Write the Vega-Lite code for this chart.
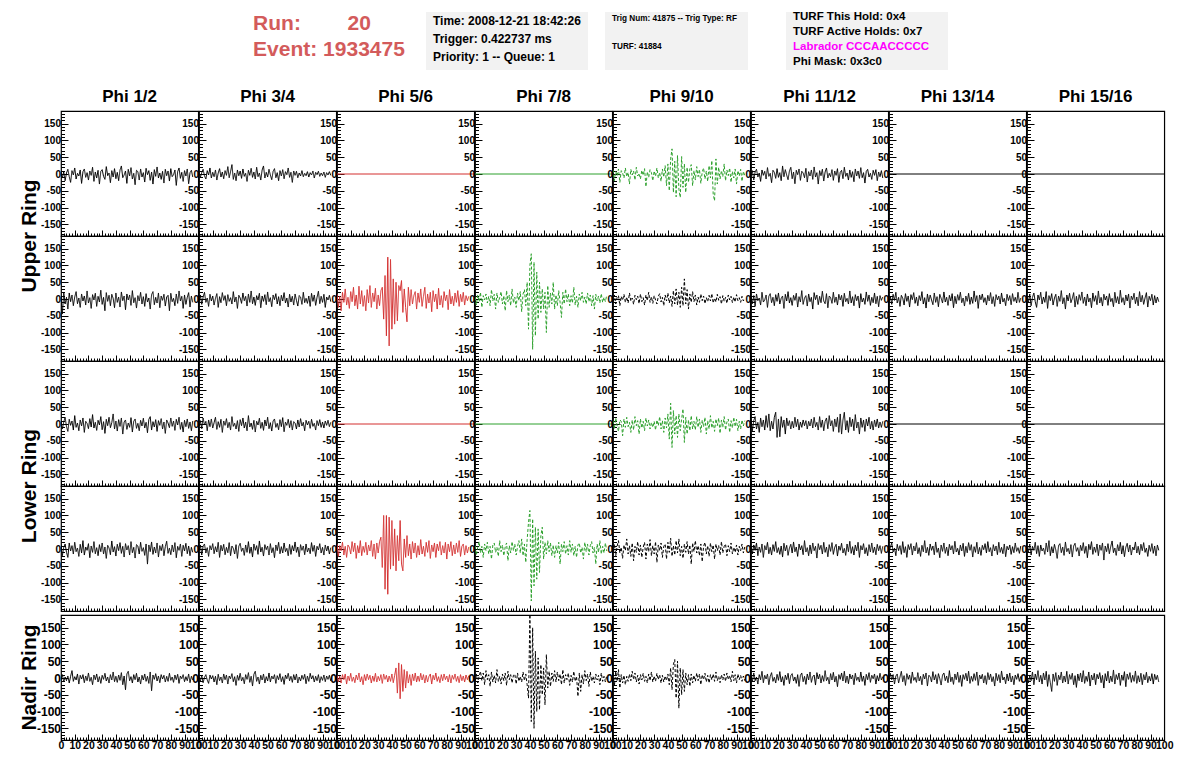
{
"$schema": "https://vega.github.io/schema/vega-lite/v6.json",
"padding": {"left": 18, "top": 10, "right": 0, "bottom": 0},
"config": {"view": {"stroke": "#000000", "strokeWidth": 1.2}, "font": "Liberation Sans", "axis": {"labelFont": "Liberation Sans"}, "header": {"labelFont": "Liberation Sans"}, "text": {"font": "Liberation Sans"}},
"datasets": {"wave": [
{"ring":"U1","phi":"Phi 1/2","trig":"none","pol":"V","ns":[0,1,2,3,4,5,6,7,8,9,10,11,12,13,14,15,16,17,18,19,20,21,22,23,24,25,26,27,28,29,30,31,32,33,34,35,36,37,38,39,40,41,42,43,44,45,46,47,48,49,50,51,52,53,54,55,56,57,58,59,60,61,62,63,64,65,66,67,68,69,70,71,72,73,74,75,76,77,78,79,80,81,82,83,84,85,86,87,88,89,90,91,92,93,94,95,96],"adc":[5,-12,8,-20,3,14,-8,-25,10,-3,18,-15,2,-6,12,-28,7,15,-10,4,-18,9,-4,20,-22,6,-12,11,-30,8,13,-7,-16,22,-5,3,-26,10,-9,16,-14,5,-20,12,24,-11,-3,9,-28,14,-6,19,-15,2,-32,11,7,-18,15,-9,4,-24,17,-2,10,-19,6,-30,13,-7,21,-12,3,-16,8,-27,14,-5,9,-21,16,-8,-2,12,-34,7,18,-13,5,-22,10,-6,15,-29,4,11,-9]},
{"ring":"U1","phi":"Phi 3/4","trig":"none","pol":"V","ns":[0,1,2,3,4,5,6,7,8,9,10,11,12,13,14,15,16,17,18,19,20,21,22,23,24,25,26,27,28,29,30,31,32,33,34,35,36,37,38,39,40,41,42,43,44,45,46,47,48,49,50,51,52,53,54,55,56,57,58,59,60,61,62,63,64,65,66,67,68,69,70,71,72,73,74,75,76,77,78,79,80,81,82,83,84,85,86,87,88,89,90,91,92,93,94,95,96],"adc":[8,-10,4,14,-6,-15,10,-3,18,-12,5,-8,12,-18,3,16,-9,6,-14,10,-4,22,-11,7,28,-16,3,-20,12,-5,9,-13,15,-7,2,-22,11,-4,17,-10,6,-15,20,-8,3,-18,12,24,-12,5,-9,14,-3,-17,8,16,-11,4,-20,10,-6,13,-14,7,-2,18,-10,5,-25,9,-4,8,-11,3,-6,10,-8,2,-5,7,-9,4,-3,9,-12,5,-2,8,-7,3,-5,6,-10,4,-3,7,-4]},
{"ring":"U1","phi":"Phi 5/6","trig":"L1","pol":"V","ns":[0,100],"adc":[0,0]},
{"ring":"U1","phi":"Phi 7/8","trig":"L2","pol":"V","ns":[0,100],"adc":[0,0]},
{"ring":"U1","phi":"Phi 9/10","trig":"L2","pol":"H","ns":[0,1,2,3,4,5,6,7,8,9,10,11,12,13,14,15,16,17,18,19,20,21,22,23,24,25,26,27,28,29,30,31,32,33,34,35,36,37,38,39,40,41,42,43,44,45,46,47,48,49,50,51,52,53,54,55,56,57,58,59,60,61,62,63,64,65,66,67,68,69,70,71,72,73,74,75,76,77,78,79,80,81,82,83,84,85,86,87,88,89,90,91,92,93,94,95,96],"adc":[12,-20,8,-5,15,-25,10,3,-12,18,-8,5,-30,14,-3,9,-18,20,-6,2,-15,11,-4,16,-38,7,-10,13,4,-20,9,-7,18,-12,5,-22,15,-9,25,-35,30,-50,45,75,-55,38,-68,55,-45,-70,52,-40,30,-55,20,-25,15,28,-35,10,-18,22,-8,14,-28,6,18,-15,9,-22,25,-12,40,-60,-80,45,-30,20,-15,10,-8,30,-20,12,-5,18,-25,8,-12,15,-30,10,-6,14,-22,8,-5]},
{"ring":"U1","phi":"Phi 11/12","trig":"none","pol":"V","ns":[0,1,2,3,4,5,6,7,8,9,10,11,12,13,14,15,16,17,18,19,20,21,22,23,24,25,26,27,28,29,30,31,32,33,34,35,36,37,38,39,40,41,42,43,44,45,46,47,48,49,50,51,52,53,54,55,56,57,58,59,60,61,62,63,64,65,66,67,68,69,70,71,72,73,74,75,76,77,78,79,80,81,82,83,84,85,86,87,88,89,90,91,92,93,94,95,96],"adc":[-5,10,-18,6,14,-9,3,-22,12,-4,8,-15,19,-7,2,-26,11,5,-13,16,-10,4,-20,24,-8,13,-3,-17,9,20,-14,6,-29,11,-2,15,-19,8,3,-11,17,-24,7,-6,12,-16,21,-9,4,-30,10,-5,14,-21,6,18,-12,2,-8,13,-19,9,-4,16,-25,5,11,-14,20,-7,3,-18,12,-10,7,-23,15,-6,9,-13,19,-11,4,-27,8,14,-9,2,-16,11,-4,13,-20,6,-8,10,-12]},
{"ring":"U1","phi":"Phi 13/14","trig":"none","pol":"V","ns":[0,100],"adc":[0,0]},
{"ring":"U1","phi":"Phi 15/16","trig":"none","pol":"V","ns":[0,100],"adc":[0,0]},
{"ring":"U2","phi":"Phi 1/2","trig":"none","pol":"V","ns":[0,1,2,3,4,5,6,7,8,9,10,11,12,13,14,15,16,17,18,19,20,21,22,23,24,25,26,27,28,29,30,31,32,33,34,35,36,37,38,39,40,41,42,43,44,45,46,47,48,49,50,51,52,53,54,55,56,57,58,59,60,61,62,63,64,65,66,67,68,69,70,71,72,73,74,75,76,77,78,79,80,81,82,83,84,85,86,87,88,89,90,91,92,93,94,95,96],"adc":[10,-45,20,-15,5,-30,18,-8,12,-20,6,22,-14,3,-25,15,-6,9,-18,24,-12,4,-28,13,-3,17,-22,8,-9,26,-16,5,-35,19,-7,11,-20,14,2,-26,18,-10,6,-24,21,-5,9,-32,15,-3,12,-19,25,-11,4,-27,10,-6,20,-15,7,-22,16,-9,3,-30,13,22,-17,5,-12,18,-26,9,-4,14,-21,6,11,-35,17,-8,2,-20,15,-13,24,-6,8,-28,12,-16,5,19,-24,9,-10]},
{"ring":"U2","phi":"Phi 3/4","trig":"none","pol":"V","ns":[0,1,2,3,4,5,6,7,8,9,10,11,12,13,14,15,16,17,18,19,20,21,22,23,24,25,26,27,28,29,30,31,32,33,34,35,36,37,38,39,40,41,42,43,44,45,46,47,48,49,50,51,52,53,54,55,56,57,58,59,60,61,62,63,64,65,66,67,68,69,70,71,72,73,74,75,76,77,78,79,80,81,82,83,84,85,86,87,88,89,90,91,92,93,94,95,96],"adc":[-8,12,-16,5,20,-10,3,-22,14,-6,9,-18,2,16,-25,7,-11,19,-4,10,-20,13,-7,4,-15,22,-9,6,-28,11,3,-13,18,-5,8,-21,15,-10,24,-14,6,-19,10,-3,17,-26,9,-7,13,-17,21,-8,4,-23,12,-2,16,-15,7,-20,11,-6,19,-12,3,-24,14,-9,8,-18,15,-4,-21,10,6,-16,20,-11,2,-13,9,-22,17,-7,12,-19,5,23,-14,8,-10,14,-25,6,-3,11,-8]},
{"ring":"U2","phi":"Phi 5/6","trig":"L1","pol":"V","ns":[0,1,2,3,4,5,6,7,8,9,10,11,12,13,14,15,16,17,18,19,20,21,22,23,24,25,26,27,28,29,30,31,32,33,34,35,36,37,38,39,40,41,42,43,44,45,46,47,48,49,50,51,52,53,54,55,56,57,58,59,60,61,62,63,64,65,66,67,68,69,70,71,72,73,74,75,76,77,78,79,80,81,82,83,84,85,86,87,88,89,90,91,92,93,94,95,96],"adc":[15,-25,8,-35,20,-10,30,-18,5,-28,22,-8,35,-20,12,-30,38,-15,25,-22,10,-35,28,-12,40,-25,18,-8,32,-30,12,-20,25,35,-60,70,-110,125,-140,118,-90,60,-75,50,-65,40,25,55,-40,30,-25,-68,35,-20,28,-15,10,22,-30,18,-10,30,-22,8,35,-28,15,-12,20,-38,25,-8,15,-30,32,-18,10,-25,22,-5,12,-32,28,-15,8,-20,18,-10,25,-22,14,-8,20,-18,10,-5,8]},
{"ring":"U2","phi":"Phi 7/8","trig":"L2","pol":"H","ns":[0,1,2,3,4,5,6,7,8,9,10,11,12,13,14,15,16,17,18,19,20,21,22,23,24,25,26,27,28,29,30,31,32,33,34,35,36,37,38,39,40,41,42,43,44,45,46,47,48,49,50,51,52,53,54,55,56,57,58,59,60,61,62,63,64,65,66,67,68,69,70,71,72,73,74,75,76,77,78,79,80,81,82,83,84,85,86,87,88,89,90,91,92,93,94,95,96],"adc":[5,-18,12,-8,20,-25,10,-3,15,-12,8,-20,28,-6,14,-30,18,-10,5,22,-15,10,-35,25,-8,12,-20,30,-12,6,-25,18,-5,22,-38,15,28,-20,50,-90,100,135,-150,110,-110,80,-60,50,-40,30,-30,20,-100,40,-25,18,-15,50,-30,12,-20,25,-10,-55,20,-15,30,-8,15,-20,10,-12,35,-18,8,-25,15,-5,20,-10,6,-15,18,-8,12,-20,10,-30,14,-6,9,-12,16,-10,5,-8,12]},
{"ring":"U2","phi":"Phi 9/10","trig":"none","pol":"H","ns":[0,1,2,3,4,5,6,7,8,9,10,11,12,13,14,15,16,17,18,19,20,21,22,23,24,25,26,27,28,29,30,31,32,33,34,35,36,37,38,39,40,41,42,43,44,45,46,47,48,49,50,51,52,53,54,55,56,57,58,59,60,61,62,63,64,65,66,67,68,69,70,71,72,73,74,75,76,77,78,79,80,81,82,83,84,85,86,87,88,89,90,91,92,93,94,95,96],"adc":[-8,12,-15,5,10,-20,8,-4,14,-10,6,-12,18,-6,3,-16,11,-2,9,-14,15,-8,4,-18,12,-5,20,-10,7,-13,10,-3,-15,8,16,-9,5,-20,12,-6,18,-12,9,-22,25,-15,30,-18,20,-25,35,-20,60,-15,28,-30,15,-10,22,-8,12,-18,6,-10,15,-5,9,-14,4,-8,11,-6,16,-12,3,-9,14,-4,7,-15,10,-7,5,-13,12,-3,8,-11,6,-9,13,-5,4,-10,8,-6,3]},
{"ring":"U2","phi":"Phi 11/12","trig":"none","pol":"V","ns":[0,1,2,3,4,5,6,7,8,9,10,11,12,13,14,15,16,17,18,19,20,21,22,23,24,25,26,27,28,29,30,31,32,33,34,35,36,37,38,39,40,41,42,43,44,45,46,47,48,49,50,51,52,53,54,55,56,57,58,59,60,61,62,63,64,65,66,67,68,69,70,71,72,73,74,75,76,77,78,79,80,81,82,83,84,85,86,87,88,89,90,91,92,93,94,95,96],"adc":[6,-14,10,-22,15,-5,3,-18,20,-9,-3,12,-25,8,16,-11,5,-20,13,-7,18,-15,2,9,-28,14,-6,22,-12,4,-19,11,-4,17,-24,7,-9,25,-16,3,10,-21,15,-8,5,-30,19,-2,12,-17,8,-11,23,-6,-14,16,-26,9,4,-13,20,-10,6,-18,14,-3,11,-22,17,-8,2,-15,24,-12,7,-20,13,-5,9,-27,16,-9,3,-16,21,-7,12,-19,5,-11,18,-14,8,-23,10,-4,6]},
{"ring":"U2","phi":"Phi 13/14","trig":"none","pol":"V","ns":[0,1,2,3,4,5,6,7,8,9,10,11,12,13,14,15,16,17,18,19,20,21,22,23,24,25,26,27,28,29,30,31,32,33,34,35,36,37,38,39,40,41,42,43,44,45,46,47,48,49,50,51,52,53,54,55,56,57,58,59,60,61,62,63,64,65,66,67,68,69,70,71,72,73,74,75,76,77,78,79,80,81,82,83,84,85,86,87,88,89,90,91,92,93,94,95,96],"adc":[-10,8,-16,14,-4,20,-12,5,-22,11,3,-18,16,-7,9,-24,13,-2,19,-13,6,-20,10,-5,22,-15,4,-27,15,-8,12,-3,-17,18,-10,7,-23,14,2,-12,21,-9,5,-19,11,-6,16,-26,8,-14,13,-4,20,-11,3,-21,9,-7,17,-16,6,-13,24,-8,10,-28,12,-2,15,-10,4,-18,11,-6,19,-14,7,-22,13,-3,9,-15,18,-9,2,-20,14,-5,10,-17,16,-7,5,-12,20,-10,3]},
{"ring":"U2","phi":"Phi 15/16","trig":"none","pol":"V","ns":[0,1,2,3,4,5,6,7,8,9,10,11,12,13,14,15,16,17,18,19,20,21,22,23,24,25,26,27,28,29,30,31,32,33,34,35,36,37,38,39,40,41,42,43,44,45,46,47,48,49,50,51,52,53,54,55,56,57,58,59,60,61,62,63,64,65,66,67,68,69,70,71,72,73,74,75,76,77,78,79,80,81,82,83,84,85,86,87,88,89,90,91,92,93,94,95,96],"adc":[8,-12,15,-20,5,18,-8,-25,12,-3,20,-15,6,-10,22,-28,10,-5,16,-18,3,14,-22,9,-7,25,-14,4,-30,12,-6,17,-11,2,19,-24,8,-16,13,-4,21,-13,6,-20,15,-9,3,-26,18,-7,10,-17,24,-12,5,-21,14,-3,9,-19,16,-8,2,-23,20,-11,7,-15,26,-10,4,-18,12,-6,15,-27,9,-2,17,-14,6,-20,22,-9,11,-16,3,19,-24,8,-5,14,-18,10,-12,6,-8]},
{"ring":"L1","phi":"Phi 1/2","trig":"none","pol":"V","ns":[0,1,2,3,4,5,6,7,8,9,10,11,12,13,14,15,16,17,18,19,20,21,22,23,24,25,26,27,28,29,30,31,32,33,34,35,36,37,38,39,40,41,42,43,44,45,46,47,48,49,50,51,52,53,54,55,56,57,58,59,60,61,62,63,64,65,66,67,68,69,70,71,72,73,74,75,76,77,78,79,80,81,82,83,84,85,86,87,88,89,90,91,92,93,94,95,96],"adc":[10,-15,6,20,-8,-22,14,-4,9,-18,25,-10,3,-20,12,-6,18,-25,8,2,-14,16,-9,28,-12,5,-19,11,-3,22,-17,7,-28,14,-5,20,-11,4,30,-15,9,-21,13,-7,18,-30,6,12,-16,3,-10,19,-24,8,15,-13,2,-20,11,-6,17,-12,5,-26,14,22,-18,7,-9,13,-22,10,-4,16,-15,6,-28,12,3,-11,18,-7,9,-19,14,-3,20,-16,5,-24,11,-8,15,-13,6,-20,9]},
{"ring":"L1","phi":"Phi 3/4","trig":"none","pol":"V","ns":[0,1,2,3,4,5,6,7,8,9,10,11,12,13,14,15,16,17,18,19,20,21,22,23,24,25,26,27,28,29,30,31,32,33,34,35,36,37,38,39,40,41,42,43,44,45,46,47,48,49,50,51,52,53,54,55,56,57,58,59,60,61,62,63,64,65,66,67,68,69,70,71,72,73,74,75,76,77,78,79,80,81,82,83,84,85,86,87,88,89,90,91,92,93,94,95,96],"adc":[-6,10,-14,18,-3,8,-20,12,-8,15,-12,4,20,-16,7,-10,14,-25,9,-4,16,-11,5,-18,22,-7,2,-15,10,-22,13,-5,18,-12,6,-20,25,-9,3,-16,11,-24,8,-3,17,-13,5,-19,12,-6,20,-14,4,-21,9,15,-10,2,-17,13,-8,19,-23,6,-4,14,-11,10,-18,7,3,-15,12,-9,16,-6,5,-20,11,-3,8,-13,14,-7,2,-18,10,-5,13,-10,6,-12,9,-4,11,-8,5]},
{"ring":"L1","phi":"Phi 5/6","trig":"L1","pol":"V","ns":[0,100],"adc":[0,0]},
{"ring":"L1","phi":"Phi 7/8","trig":"L2","pol":"V","ns":[0,100],"adc":[0,0]},
{"ring":"L1","phi":"Phi 9/10","trig":"L2","pol":"H","ns":[0,1,2,3,4,5,6,7,8,9,10,11,12,13,14,15,16,17,18,19,20,21,22,23,24,25,26,27,28,29,30,31,32,33,34,35,36,37,38,39,40,41,42,43,44,45,46,47,48,49,50,51,52,53,54,55,56,57,58,59,60,61,62,63,64,65,66,67,68,69,70,71,72,73,74,75,76,77,78,79,80,81,82,83,84,85,86,87,88,89,90,91,92,93,94,95,96],"adc":[10,-15,18,-5,-22,12,8,-35,15,-10,20,-8,5,-25,12,-18,22,-5,10,-30,15,-12,8,-20,18,-6,12,-15,5,-10,8,-18,12,-5,22,-15,10,-25,18,-12,30,-45,62,-70,40,-30,25,-40,30,-20,15,45,-55,20,-30,12,-20,25,-15,8,-18,22,-10,15,-25,12,-8,20,-30,10,-15,25,-12,8,-22,15,-5,18,-28,12,-10,22,-18,6,15,-25,10,-12,20,-8,14,-20,8,-15,12,-6,10]},
{"ring":"L1","phi":"Phi 11/12","trig":"none","pol":"V","ns":[0,1,2,3,4,5,6,7,8,9,10,11,12,13,14,15,16,17,18,19,20,21,22,23,24,25,26,27,28,29,30,31,32,33,34,35,36,37,38,39,40,41,42,43,44,45,46,47,48,49,50,51,52,53,54,55,56,57,58,59,60,61,62,63,64,65,66,67,68,69,70,71,72,73,74,75,76,77,78,79,80,81,82,83,84,85,86,87,88,89,90,91,92,93,94,95,96],"adc":[15,-20,10,22,-15,5,-25,18,-8,12,-18,25,-10,30,-20,8,-15,20,35,-40,15,-38,22,-10,12,-30,18,-5,10,-15,8,-12,20,-8,14,-18,6,-10,12,-5,10,-15,8,-6,15,-12,20,-8,5,-18,22,-10,12,-20,8,18,-14,25,-6,10,-22,15,-8,20,-25,30,-30,12,35,-18,10,-25,20,-8,15,-20,28,-12,6,-30,18,-10,12,-22,15,-6,20,-15,8,-18,12,-8,15,-12,6,-10,8]},
{"ring":"L1","phi":"Phi 13/14","trig":"none","pol":"V","ns":[0,100],"adc":[0,0]},
{"ring":"L1","phi":"Phi 15/16","trig":"none","pol":"V","ns":[0,100],"adc":[0,0]},
{"ring":"L2","phi":"Phi 1/2","trig":"none","pol":"V","ns":[0,1,2,3,4,5,6,7,8,9,10,11,12,13,14,15,16,17,18,19,20,21,22,23,24,25,26,27,28,29,30,31,32,33,34,35,36,37,38,39,40,41,42,43,44,45,46,47,48,49,50,51,52,53,54,55,56,57,58,59,60,61,62,63,64,65,66,67,68,69,70,71,72,73,74,75,76,77,78,79,80,81,82,83,84,85,86,87,88,89,90,91,92,93,94,95,96],"adc":[12,-20,5,15,-10,-25,18,-6,10,-15,20,-8,3,-22,14,-12,25,-18,6,-4,16,-26,9,-10,22,-14,4,-20,13,-8,18,-15,6,-28,11,3,-17,24,-9,7,-21,14,-5,19,-13,8,-24,16,-3,10,-18,22,-11,5,-27,13,9,-15,20,-7,4,-19,15,-45,12,-8,21,-16,6,-12,18,-24,10,-5,14,-20,7,23,-13,3,-17,12,-9,19,-26,8,-4,15,-22,11,-6,17,-14,9,-20,5,-10]},
{"ring":"L2","phi":"Phi 3/4","trig":"none","pol":"V","ns":[0,1,2,3,4,5,6,7,8,9,10,11,12,13,14,15,16,17,18,19,20,21,22,23,24,25,26,27,28,29,30,31,32,33,34,35,36,37,38,39,40,41,42,43,44,45,46,47,48,49,50,51,52,53,54,55,56,57,58,59,60,61,62,63,64,65,66,67,68,69,70,71,72,73,74,75,76,77,78,79,80,81,82,83,84,85,86,87,88,89,90,91,92,93,94,95,96],"adc":[-5,12,-18,8,15,-12,4,-22,10,-3,16,-14,7,-9,20,-25,11,-6,14,-17,5,-11,19,-20,9,2,-15,13,-28,8,17,-7,3,-19,12,-10,22,-13,6,-24,15,-4,10,-16,24,-9,5,-21,13,-2,9,-18,16,-11,4,-26,12,-5,20,-14,7,-12,18,-8,2,-20,14,-16,10,-6,21,-10,6,-23,13,-4,9,-17,15,-9,3,-14,19,-7,11,-22,8,-3,16,-12,5,-18,12,-6,9,-15,4]},
{"ring":"L2","phi":"Phi 5/6","trig":"L1","pol":"V","ns":[0,1,2,3,4,5,6,7,8,9,10,11,12,13,14,15,16,17,18,19,20,21,22,23,24,25,26,27,28,29,30,31,32,33,34,35,36,37,38,39,40,41,42,43,44,45,46,47,48,49,50,51,52,53,54,55,56,57,58,59,60,61,62,63,64,65,66,67,68,69,70,71,72,73,74,75,76,77,78,79,80,81,82,83,84,85,86,87,88,89,90,91,92,93,94,95,96],"adc":[15,-22,10,-5,20,-18,8,-25,12,5,-15,22,-8,18,-28,10,-12,25,-20,8,-10,20,-18,12,-6,25,-22,15,-30,18,-12,22,35,-55,100,-120,100,-135,95,-60,85,-50,60,-65,40,-35,85,-45,-65,30,-25,40,-20,15,-30,22,-12,18,-25,10,-18,28,-15,8,-22,20,-10,25,-28,12,-8,18,-25,15,-5,22,-18,10,-12,20,-30,15,-8,22,-20,12,-15,18,-10,25,-22,8,15,-18,10,-12,6]},
{"ring":"L2","phi":"Phi 7/8","trig":"L2","pol":"H","ns":[0,1,2,3,4,5,6,7,8,9,10,11,12,13,14,15,16,17,18,19,20,21,22,23,24,25,26,27,28,29,30,31,32,33,34,35,36,37,38,39,40,41,42,43,44,45,46,47,48,49,50,51,52,53,54,55,56,57,58,59,60,61,62,63,64,65,66,67,68,69,70,71,72,73,74,75,76,77,78,79,80,81,82,83,84,85,86,87,88,89,90,91,92,93,94,95,96],"adc":[10,-18,5,22,-12,8,-25,15,-5,20,-15,8,-30,12,18,-10,5,-22,25,-8,12,-20,6,18,-35,10,-12,22,-5,15,-18,8,25,-12,30,-20,15,-40,28,80,115,-155,90,-110,65,-90,60,-70,40,65,-30,20,-15,25,-8,18,-20,12,-25,10,-12,20,-45,15,-8,22,-15,10,-18,25,-10,15,-20,8,-25,12,18,-12,5,-30,20,-8,15,-18,10,22,-12,5,-45,15,-10,25,-15,8,-12,18,-6]},
{"ring":"L2","phi":"Phi 9/10","trig":"none","pol":"H","ns":[0,1,2,3,4,5,6,7,8,9,10,11,12,13,14,15,16,17,18,19,20,21,22,23,24,25,26,27,28,29,30,31,32,33,34,35,36,37,38,39,40,41,42,43,44,45,46,47,48,49,50,51,52,53,54,55,56,57,58,59,60,61,62,63,64,65,66,67,68,69,70,71,72,73,74,75,76,77,78,79,80,81,82,83,84,85,86,87,88,89,90,91,92,93,94,95,96],"adc":[-10,15,-20,8,25,-12,5,-28,12,-5,30,-15,10,-22,18,-35,8,-10,22,-18,12,-25,5,20,-30,15,-8,28,-20,10,-15,22,-40,12,-5,18,-25,8,15,-30,20,-10,32,-22,10,-18,25,-12,30,-20,8,-28,15,-10,22,-15,12,-45,18,-8,25,-12,10,-20,15,-38,8,20,-15,10,-22,18,-8,12,-30,15,-5,10,-18,22,-12,8,15,-20,10,-8,18,-15,5,-10,12,-18,8,-5,15,-12,6]},
{"ring":"L2","phi":"Phi 11/12","trig":"none","pol":"V","ns":[0,1,2,3,4,5,6,7,8,9,10,11,12,13,14,15,16,17,18,19,20,21,22,23,24,25,26,27,28,29,30,31,32,33,34,35,36,37,38,39,40,41,42,43,44,45,46,47,48,49,50,51,52,53,54,55,56,57,58,59,60,61,62,63,64,65,66,67,68,69,70,71,72,73,74,75,76,77,78,79,80,81,82,83,84,85,86,87,88,89,90,91,92,93,94,95,96],"adc":[8,-15,12,-4,18,-20,6,-10,15,-25,10,-3,20,-14,5,-18,13,-7,22,-11,4,-16,9,-24,17,-6,11,-19,3,14,-12,21,-8,6,-22,15,-3,10,-17,25,-9,4,-20,12,-14,18,-5,8,-27,16,-2,11,-15,20,-10,6,-23,13,-7,19,-16,5,14,-21,9,-4,17,-12,2,-19,15,-8,23,-13,7,-18,12,-6,20,-25,10,-3,16,-14,4,-20,13,-9,18,-11,6,-17,14,-5,10,-13,8]},
{"ring":"L2","phi":"Phi 13/14","trig":"none","pol":"V","ns":[0,1,2,3,4,5,6,7,8,9,10,11,12,13,14,15,16,17,18,19,20,21,22,23,24,25,26,27,28,29,30,31,32,33,34,35,36,37,38,39,40,41,42,43,44,45,46,47,48,49,50,51,52,53,54,55,56,57,58,59,60,61,62,63,64,65,66,67,68,69,70,71,72,73,74,75,76,77,78,79,80,81,82,83,84,85,86,87,88,89,90,91,92,93,94,95,96],"adc":[-12,6,18,-9,3,-20,14,-5,10,-16,22,-11,7,-25,13,-2,16,-18,9,-6,19,-14,4,-22,11,-8,25,-12,5,-19,15,-4,9,-17,21,-10,3,-26,12,-7,18,-13,6,-20,14,-3,10,-15,23,-9,2,-18,12,-6,17,-22,8,-11,19,-4,13,-24,7,-10,20,-15,5,-19,11,-2,16,-12,22,-8,4,-21,13,-6,9,-17,20,-10,5,-14,15,-23,8,-3,12,-16,7,-11,18,-7,4,-13,9]},
{"ring":"L2","phi":"Phi 15/16","trig":"none","pol":"V","ns":[0,1,2,3,4,5,6,7,8,9,10,11,12,13,14,15,16,17,18,19,20,21,22,23,24,25,26,27,28,29,30,31,32,33,34,35,36,37,38,39,40,41,42,43,44,45,46,47,48,49,50,51,52,53,54,55,56,57,58,59,60,61,62,63,64,65,66,67,68,69,70,71,72,73,74,75,76,77,78,79,80,81,82,83,84,85,86,87,88,89,90,91,92,93,94,95,96],"adc":[5,-10,15,-18,8,-4,20,-14,10,-22,12,-6,3,-16,18,-9,25,-20,7,-12,14,-3,-28,10,16,-11,6,-19,21,-8,2,-15,13,-24,9,17,-7,4,-21,11,-5,19,-13,8,-26,14,-2,22,-16,6,-10,15,-20,12,-4,18,-33,9,-8,16,-14,7,24,-11,3,-19,13,-6,20,-15,10,-23,5,17,-9,12,-18,6,-3,21,-12,8,-17,14,-5,19,-10,3,-22,11,-7,16,-13,9,-20,12,-4]},
{"ring":"N","phi":"Phi 1/2","trig":"none","pol":"V","ns":[0,1,2,3,4,5,6,7,8,9,10,11,12,13,14,15,16,17,18,19,20,21,22,23,24,25,26,27,28,29,30,31,32,33,34,35,36,37,38,39,40,41,42,43,44,45,46,47,48,49,50,51,52,53,54,55,56,57,58,59,60,61,62,63,64,65,66,67,68,69,70,71,72,73,74,75,76,77,78,79,80,81,82,83,84,85,86,87,88,89,90,91,92,93,94,95,96],"adc":[-5,10,-12,3,-8,6,-15,5,22,-10,4,-6,12,-18,8,-3,10,-14,6,-8,15,-10,2,-20,9,-5,12,-12,4,-16,8,-4,14,-9,3,-15,10,-6,18,-11,5,-13,9,-7,16,-20,6,-35,12,20,-8,4,-15,10,-5,14,-12,3,-18,8,-6,12,-10,5,-16,18,-38,9,-4,13,-9,6,-14,10,-3,8,-12,5,-10,14,-7,3,-13,9,-5,11,-16,6,-2,10,-11,4,-8,12,-14,5,-6]},
{"ring":"N","phi":"Phi 3/4","trig":"none","pol":"V","ns":[0,1,2,3,4,5,6,7,8,9,10,11,12,13,14,15,16,17,18,19,20,21,22,23,24,25,26,27,28,29,30,31,32,33,34,35,36,37,38,39,40,41,42,43,44,45,46,47,48,49,50,51,52,53,54,55,56,57,58,59,60,61,62,63,64,65,66,67,68,69,70,71,72,73,74,75,76,77,78,79,80,81,82,83,84,85,86,87,88,89,90,91,92,93,94,95,96],"adc":[4,-10,8,-14,2,10,-6,-16,9,-3,7,-12,5,-20,11,-8,3,-15,12,-5,9,-18,6,-2,13,-11,4,-22,8,-7,14,-9,2,-17,10,-4,16,-13,5,-24,11,20,-10,3,-18,8,-6,12,-15,4,-9,15,-12,6,-3,10,-16,7,-5,13,-11,4,-19,9,-2,14,-8,5,-13,10,-6,12,-15,3,-9,8,-4,11,-17,6,-10,14,-3,7,-12,5,-8,10,-14,4,-7,9,-11,6,-4,8,-9]},
{"ring":"N","phi":"Phi 5/6","trig":"L1","pol":"V","ns":[0,1,2,3,4,5,6,7,8,9,10,11,12,13,14,15,16,17,18,19,20,21,22,23,24,25,26,27,28,29,30,31,32,33,34,35,36,37,38,39,40,41,42,43,44,45,46,47,48,49,50,51,52,53,54,55,56,57,58,59,60,61,62,63,64,65,66,67,68,69,70,71,72,73,74,75,76,77,78,79,80,81,82,83,84,85,86,87,88,89,90,91,92,93,94,95,96],"adc":[8,-12,5,-15,10,-5,12,-18,6,-8,14,-10,3,-14,9,-6,15,-12,4,-20,10,-8,12,-5,8,-15,6,-10,14,-12,5,-8,10,-16,12,-4,8,-12,6,-10,12,-14,8,30,-45,45,-62,40,-40,25,-30,20,-15,10,-22,12,-8,15,-12,6,-10,14,-6,10,-15,8,-12,5,12,-18,8,-6,15,-10,4,-14,10,-8,12,-5,6,-12,10,-15,8,-4,12,-10,5,-14,10,-8,6,-12,9,-5,7]},
{"ring":"N","phi":"Phi 7/8","trig":"none","pol":"H","ns":[0,1,2,3,4,5,6,7,8,9,10,11,12,13,14,15,16,17,18,19,20,21,22,23,24,25,26,27,28,29,30,31,32,33,34,35,36,37,38,39,40,41,42,43,44,45,46,47,48,49,50,51,52,53,54,55,56,57,58,59,60,61,62,63,64,65,66,67,68,69,70,71,72,73,74,75,76,77,78,79,80,81,82,83,84,85,86,87,88,89,90,91,92,93,94,95,96],"adc":[-10,12,-15,5,20,-8,15,-20,22,-5,10,-25,18,-12,8,-15,25,-10,5,-18,12,-8,15,-22,20,-5,10,-15,8,12,-18,15,-10,5,-12,18,-8,12,-20,-60,190,-130,150,-150,80,-100,60,-95,40,-50,30,-80,70,-30,20,-25,15,-10,22,-12,18,-8,12,-20,25,-15,10,-5,15,-22,8,-12,20,-10,5,-55,15,-40,10,-18,22,-8,12,-25,18,-10,5,-15,12,-6,8,-20,15,-10,5,-12,8]},
{"ring":"N","phi":"Phi 9/10","trig":"none","pol":"H","ns":[0,1,2,3,4,5,6,7,8,9,10,11,12,13,14,15,16,17,18,19,20,21,22,23,24,25,26,27,28,29,30,31,32,33,34,35,36,37,38,39,40,41,42,43,44,45,46,47,48,49,50,51,52,53,54,55,56,57,58,59,60,61,62,63,64,65,66,67,68,69,70,71,72,73,74,75,76,77,78,79,80,81,82,83,84,85,86,87,88,89,90,91,92,93,94,95,96],"adc":[15,-25,20,-10,25,-30,10,-15,8,-20,5,-10,12,-8,20,-5,15,-12,8,-18,10,-6,14,-10,5,-15,12,-8,18,-12,6,-10,14,-5,10,-15,8,-12,6,-8,12,-20,30,-35,40,55,-60,50,-90,30,-50,25,-40,15,-20,10,-25,12,-15,8,-10,15,-8,12,-20,10,-5,14,-12,8,-15,10,-6,12,-10,18,-8,5,-14,10,-6,12,-10,15,-5,8,-12,20,-8,10,-15,12,-5,8,-10,6,-8]},
{"ring":"N","phi":"Phi 11/12","trig":"none","pol":"V","ns":[0,1,2,3,4,5,6,7,8,9,10,11,12,13,14,15,16,17,18,19,20,21,22,23,24,25,26,27,28,29,30,31,32,33,34,35,36,37,38,39,40,41,42,43,44,45,46,47,48,49,50,51,52,53,54,55,56,57,58,59,60,61,62,63,64,65,66,67,68,69,70,71,72,73,74,75,76,77,78,79,80,81,82,83,84,85,86,87,88,89,90,91,92,93,94,95,96],"adc":[6,-12,15,-8,3,-18,10,-5,20,-14,8,-3,12,-20,5,16,-10,2,-15,11,-7,19,-12,4,-22,9,-5,14,-17,7,13,-9,3,-16,10,-25,8,15,-11,5,-19,12,-6,18,-13,4,9,-21,16,-3,11,-15,7,-10,22,-8,2,-18,13,-6,17,-12,5,-26,10,-4,15,-9,20,-14,6,-17,12,-3,9,-20,14,-7,3,-12,18,-10,6,-22,11,-5,16,-13,8,-2,12,-18,7,-9,14,-6,4]},
{"ring":"N","phi":"Phi 13/14","trig":"none","pol":"V","ns":[0,1,2,3,4,5,6,7,8,9,10,11,12,13,14,15,16,17,18,19,20,21,22,23,24,25,26,27,28,29,30,31,32,33,34,35,36,37,38,39,40,41,42,43,44,45,46,47,48,49,50,51,52,53,54,55,56,57,58,59,60,61,62,63,64,65,66,67,68,69,70,71,72,73,74,75,76,77,78,79,80,81,82,83,84,85,86,87,88,89,90,91,92,93,94,95,96],"adc":[-8,14,-5,10,-18,6,12,-15,3,20,-11,7,-22,13,-4,9,-16,18,-7,2,-13,16,-9,5,-20,11,-3,15,-24,8,4,-12,19,-6,10,-17,13,-2,-21,9,15,-8,6,-14,22,-11,3,-19,12,-5,17,-13,8,-25,10,-4,14,-9,20,-16,5,-10,13,-7,18,-22,9,-3,11,-15,7,-19,16,-5,12,-11,4,-24,14,-8,10,-14,21,-6,3,-17,12,-9,15,-12,6,-20,9,-4,13,-10,5]},
{"ring":"N","phi":"Phi 15/16","trig":"none","pol":"V","ns":[0,1,2,3,4,5,6,7,8,9,10,11,12,13,14,15,16,17,18,19,20,21,22,23,24,25,26,27,28,29,30,31,32,33,34,35,36,37,38,39,40,41,42,43,44,45,46,47,48,49,50,51,52,53,54,55,56,57,58,59,60,61,62,63,64,65,66,67,68,69,70,71,72,73,74,75,76,77,78,79,80,81,82,83,84,85,86,87,88,89,90,91,92,93,94,95,96],"adc":[10,-15,6,-8,18,-20,12,-5,22,-12,8,-18,15,-6,20,-25,10,-14,-40,12,-10,16,-22,8,-5,18,-15,6,-12,20,-18,10,-4,14,-20,7,-28,12,-8,15,-12,22,-16,5,-10,18,-24,9,-6,14,-20,11,-3,16,-14,8,-30,13,-9,20,-15,6,-11,24,-18,10,-5,15,-22,9,-7,19,-26,12,-4,16,-13,8,-10,21,-16,7,-12,14,-20,10,-6,17,-14,5,-9,13,-18,11,-5,8,-12]}
]},
"vconcat": [
 {"hconcat": [
   {"hconcat": [
     {"width": 348, "height": 58, "view": {"stroke": null},
      "data": {"values": [{"line": 0, "text": "Run:\u00a0\u00a0\u00a0\u00a0\u00a0\u00a0\u00a0\u00a020"}, {"line": 1, "text": "Event: 1933475"}]},
      "mark": {"type": "text", "align": "left", "baseline": "middle", "font": "Liberation Sans", "fontSize": 21, "fontWeight": "bold", "color": "#d35b5b"},
      "encoding": {
        "x": {"datum": 0.552, "type": "quantitative", "scale": {"domain": [0, 1], "nice": false, "zero": false}, "axis": null},
        "y": {"field": "line", "type": "quantitative", "scale": {"domain": [-0.46, 1.77], "reverse": true, "nice": false, "zero": false}, "axis": null},
        "text": {"field": "text"}}},
     {"width": 162, "height": 58, "view": {"fill": "#f2f2f2", "stroke": null},
      "data": {"values": [{"line": 0, "text": "Time: 2008-12-21 18:42:26"}, {"line": 1, "text": "Trigger: 0.422737 ms"}, {"line": 2, "text": "Priority: 1 -- Queue: 1"}]},
      "mark": {"type": "text", "align": "left", "baseline": "middle", "dx": 7, "font": "Liberation Sans", "fontSize": 12, "fontWeight": "bold", "color": "#000000"},
      "encoding": {
        "x": {"datum": 0, "type": "quantitative", "scale": {"domain": [0, 1], "nice": false, "zero": false}, "axis": null},
        "y": {"field": "line", "type": "quantitative", "scale": {"domain": [-0.5, 2.72], "reverse": true, "nice": false, "zero": false}, "axis": null},
        "text": {"field": "text"}}},
     {"width": 143, "height": 58, "view": {"fill": "#f2f2f2", "stroke": null},
      "data": {"values": [{"line": 0, "text": "Trig Num: 41875 -- Trig Type: RF"}, {"line": 2, "text": "TURF: 41884"}]},
      "mark": {"type": "text", "align": "left", "baseline": "middle", "dx": 7, "font": "Liberation Sans", "fontSize": 8.2, "fontWeight": "bold", "color": "#000000"},
      "encoding": {
        "x": {"datum": 0, "type": "quantitative", "scale": {"domain": [0, 1], "nice": false, "zero": false}, "axis": null},
        "y": {"field": "line", "type": "quantitative", "scale": {"domain": [-0.5, 3.64], "reverse": true, "nice": false, "zero": false}, "axis": null},
        "text": {"field": "text"}}}
   ], "spacing": 17},
   {"width": 162, "height": 58, "view": {"fill": "#f2f2f2", "stroke": null},
    "data": {"values": [{"line": 0, "grp": "turf", "text": "TURF This Hold: 0x4"}, {"line": 1, "grp": "turf", "text": "TURF Active Holds: 0x7"}, {"line": 2, "grp": "lab", "text": "Labrador CCCAACCCCC"}, {"line": 3, "grp": "turf", "text": "Phi Mask: 0x3c0"}]},
    "encoding": {
      "x": {"datum": 0, "type": "quantitative", "scale": {"domain": [0, 1], "nice": false, "zero": false}, "axis": null},
      "y": {"field": "line", "type": "quantitative", "scale": {"domain": [-0.333, 3.53], "reverse": true, "nice": false, "zero": false}, "axis": null},
      "text": {"field": "text"}},
    "layer": [
      {"transform": [{"filter": {"field": "grp", "equal": "turf"}}],
       "mark": {"type": "text", "align": "left", "baseline": "middle", "dx": 7, "font": "Liberation Sans", "fontSize": 11.5, "fontWeight": "bold", "color": "#000000"}},
      {"transform": [{"filter": {"field": "grp", "equal": "lab"}}],
       "mark": {"type": "text", "align": "left", "baseline": "middle", "dx": 7, "font": "Liberation Sans", "fontSize": 11.5, "fontWeight": "bold", "color": "#ff00ff"}}
    ]}
 ], "spacing": 38},
 {"vconcat": [
   {"data": {"name": "wave"},
    "transform": [{"filter": {"field": "ring", "oneOf": ["U1", "U2", "L1", "L2"]}}, {"flatten": ["ns", "adc"]}],
    "facet": {
      "row": {"field": "ring", "type": "nominal", "sort": ["U1", "U2", "L1", "L2"], "title": null,
        "header": {"labelExpr": "datum.value === 'U1' ? 'Upper Ring' : datum.value === 'L1' ? 'Lower Ring' : ''", "labelFont": "Liberation Sans", "labelFontSize": 21, "labelFontWeight": "bold", "labelColor": "#000000", "labelAnchor": "start", "labelAlign": "center", "labelPadding": 21}},
      "column": {"field": "phi", "type": "nominal", "sort": ["Phi 1/2", "Phi 3/4", "Phi 5/6", "Phi 7/8", "Phi 9/10", "Phi 11/12", "Phi 13/14", "Phi 15/16"], "title": null,
        "header": {"labelFont": "Liberation Sans", "labelFontSize": 17, "labelFontWeight": "bold", "labelColor": "#000000", "labelPadding": 5}}
    },
    "spacing": 0,
    "bounds": "flush",
    "resolve": {"axis": {"x": "independent", "y": "independent"}},
    "spec": {
      "width": 137.25, "height": 125,
      "mark": {"type": "line", "strokeWidth": 1, "clip": true},
      "encoding": {
        "x": {"field": "ns", "type": "quantitative", "scale": {"domain": [0, 100], "nice": false, "zero": false},
          "axis": {"values": [0,2,4,6,8,10,12,14,16,18,20,22,24,26,28,30,32,34,36,38,40,42,44,46,48,50,52,54,56,58,60,62,64,66,68,70,72,74,76,78,80,82,84,86,88,90,92,94,96,98,100], "labels": false, "domain": false, "grid": false, "title": null, "tickColor": "#000000", "tickSize": {"condition": {"test": "datum.value % 10 === 0", "value": -6}, "value": -3}}},
        "y": {"field": "adc", "type": "quantitative", "scale": {"domain": [-185, 188], "nice": false, "zero": false},
          "axis": {"values": [-180,-170,-160,-150,-140,-130,-120,-110,-100,-90,-80,-70,-60,-50,-40,-30,-20,-10,0,10,20,30,40,50,60,70,80,90,100,110,120,130,140,150,160,170,180], "labelExpr": "datum.value % 50 === 0 ? '' + datum.value : ''", "labelFont": "Liberation Sans", "labelFontSize": 10, "labelFontWeight": "bold", "labelColor": "#000000", "labelPadding": 7.5, "labelOverlap": false, "labelFlush": false, "domain": false, "grid": false, "title": null, "tickColor": "#000000", "tickSize": {"condition": {"test": "datum.value % 50 === 0", "value": -7}, "value": -3.5}}},
        "color": {"field": "trig", "type": "nominal", "scale": {"domain": ["none", "L1", "L2"], "range": ["#000000", "#d32f2f", "#2ca02c"]}, "legend": null},
        "strokeDash": {"field": "pol", "type": "nominal", "scale": {"domain": ["V", "H"], "range": [[1, 0], [3, 2]]}, "legend": null}
      }
    }
   },
   {"data": {"name": "wave"},
    "transform": [{"filter": {"field": "ring", "equal": "N"}}, {"flatten": ["ns", "adc"]}],
    "facet": {
      "row": {"field": "ring", "type": "nominal", "title": null,
        "header": {"labelExpr": "'Nadir Ring'", "labelFont": "Liberation Sans", "labelFontSize": 21, "labelFontWeight": "bold", "labelColor": "#000000", "labelAlign": "center", "labelPadding": 21}},
      "column": {"field": "phi", "type": "nominal", "sort": ["Phi 1/2", "Phi 3/4", "Phi 5/6", "Phi 7/8", "Phi 9/10", "Phi 11/12", "Phi 13/14", "Phi 15/16"], "title": null,
        "header": {"labels": false}}
    },
    "spacing": 0,
    "bounds": "flush",
    "resolve": {"axis": {"x": "independent", "y": "independent"}},
    "spec": {
      "width": 137.25, "height": 125,
      "mark": {"type": "line", "strokeWidth": 1, "clip": true},
      "encoding": {
        "x": {"field": "ns", "type": "quantitative", "scale": {"domain": [0, 100], "nice": false, "zero": false},
          "axis": {"values": [0,2,4,6,8,10,12,14,16,18,20,22,24,26,28,30,32,34,36,38,40,42,44,46,48,50,52,54,56,58,60,62,64,66,68,70,72,74,76,78,80,82,84,86,88,90,92,94,96,98,100], "labelExpr": "datum.value % 10 === 0 ? '' + datum.value : ''", "labelFont": "Liberation Sans", "labelFontSize": 10.5, "labelFontWeight": "bold", "labelColor": "#000000", "labelPadding": 6, "labelOverlap": false, "labelFlush": false, "labelBound": false, "domain": false, "grid": false, "title": null, "tickColor": "#000000", "tickSize": {"condition": {"test": "datum.value % 10 === 0", "value": -6}, "value": -3}}},
        "y": {"field": "adc", "type": "quantitative", "scale": {"domain": [-185, 188], "nice": false, "zero": false},
          "axis": {"values": [-180,-170,-160,-150,-140,-130,-120,-110,-100,-90,-80,-70,-60,-50,-40,-30,-20,-10,0,10,20,30,40,50,60,70,80,90,100,110,120,130,140,150,160,170,180], "labelExpr": "datum.value % 50 === 0 ? '' + datum.value : ''", "labelFont": "Liberation Sans", "labelFontSize": 12, "labelFontWeight": "bold", "labelColor": "#000000", "labelPadding": 7.5, "labelOverlap": false, "labelFlush": false, "domain": false, "grid": false, "title": null, "tickColor": "#000000", "tickSize": {"condition": {"test": "datum.value % 50 === 0", "value": -7}, "value": -3.5}}},
        "color": {"field": "trig", "type": "nominal", "scale": {"domain": ["none", "L1", "L2"], "range": ["#000000", "#d32f2f", "#2ca02c"]}, "legend": null},
        "strokeDash": {"field": "pol", "type": "nominal", "scale": {"domain": ["V", "H"], "range": [[1, 0], [3, 2]]}, "legend": null}
      }
    }
   }
 ], "spacing": -7}
],
"spacing": 18
}
